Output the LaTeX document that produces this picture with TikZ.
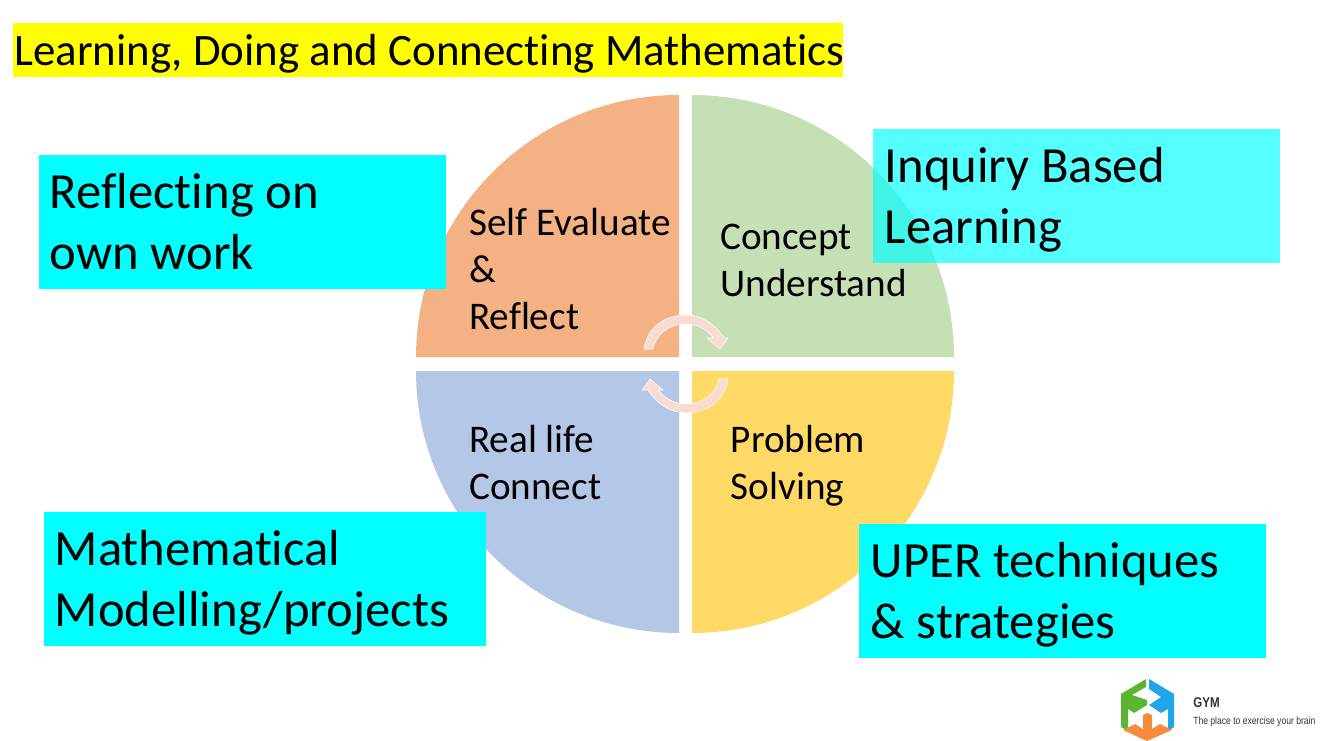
\documentclass[tikz,border=0pt]{standalone}
\usepackage{fontspec}
\setmainfont[Ligatures=CommonOff]{Carlito}
\newfontfamily\logofont[FakeStretch=0.82]{Liberation Sans}
\definecolor{cyanbox}{HTML}{00FFFF}
\definecolor{titley}{HTML}{FFFF00}
\definecolor{qorange}{HTML}{F4B183}
\definecolor{qgreen}{HTML}{C5E0B4}
\definecolor{qblue}{HTML}{B4C7E7}
\definecolor{qyellow}{HTML}{FFD966}
\definecolor{arrowfill}{HTML}{F8DCD2}
\definecolor{lgreen}{HTML}{5CB531}
\definecolor{lblue}{HTML}{1FA5EA}
\definecolor{lorange}{HTML}{F58B3C}
\definecolor{logotext}{HTML}{333333}
\tikzset{
  box/.style={fill=cyanbox,inner sep=0pt,outer sep=0pt},
  boxtext/.style={anchor=north west,align=left,inner sep=0pt,font=\fontsize{38}{45.75}\selectfont},
  pietext/.style={anchor=north west,align=left,inner sep=0pt,font=\fontsize{29.4}{35.25}\selectfont},
  cyclearrow/.style={fill=arrowfill,draw=white,line width=0.4pt}
}
\begin{document}
\begin{tikzpicture}[x=0.75pt,y=-0.75pt]
\useasboundingbox (0,0) rectangle (1326,741);
\fill[white] (0,0) rectangle (1326,741);
\fill[titley] (13,23) rectangle (843,77);
\node[anchor=base west,inner sep=0pt,font=\fontsize{33.7}{35}\selectfont] (title) at (14,65.5) {Learning, Doing and Connecting Mathematics};
% quadrants
\fill[qorange] (679,357) -- (416,357) arc[start angle=180,end angle=90,x radius=263,y radius=-262] -- cycle;
\fill[qgreen] (692,357) -- (692,95) arc[start angle=90,end angle=0,x radius=262,y radius=-262] -- cycle;
\fill[qblue] (679,371) -- (679,633) arc[start angle=270,end angle=180,x radius=263,y radius=-262] -- cycle;
\fill[qyellow] (692,371) -- (954,371) arc[start angle=0,end angle=-90,x radius=262,y radius=-262] -- cycle;
% pie labels
\node[pietext] (a) at (469,208) {Self Evaluate\\\&\\Reflect};
\node[pietext] (b) at (720,224) {Concept\\Understand};
\node[pietext] (c) at (469,425.5) {Real life\\Connect};
\node[pietext] (d) at (730.5,425.5) {Problem\\Solving};
% cycle arrows
\path[cyclearrow] (644,349) .. controls (647,327) and (665,315) .. (686,315) .. controls (702,315) and (716,325) .. (724,338) -- (728,338) -- (720,349) -- (707,338) -- (713.5,338) .. controls (707,329) and (697,324) .. (686,324) .. controls (669,324) and (656,334) .. (653,349) -- cycle;
\path[cyclearrow] (728,379) .. controls (725,401) and (707,413) .. (686,413) .. controls (670,413) and (656,403) .. (648,390) -- (642,390) -- (650,379) -- (663,390) -- (658.5,390) .. controls (665,399) and (675,404) .. (686,404) .. controls (703,404) and (716,394) .. (719,379) -- cycle;
% boxes
\fill[box] (39,155) rectangle (446,289);
\node[boxtext] (r) at (49.5,173.5) {Reflecting on\\own work};
\fill[box,fill opacity=0.67] (873,129) rectangle (1280,263);
\node[boxtext] (i) at (884.5,147.5) {Inquiry Based\\Learning};
\fill[box] (44,512) rectangle (486,646);
\node[boxtext] (m) at (54.5,530.5) {Mathematical\\Modelling/projects};
\fill[box] (859,524) rectangle (1266,658);
\node[boxtext] (u) at (870.5,542.5) {UPER techniques\\\& strategies};
% logo
\fill[lgreen] (1146,679) -- (1121,694) -- (1121,727) -- (1128,731) -- (1128,709) -- (1134,713) -- (1147,705) -- (1147,700) -- (1132,695) -- (1146,687) -- cycle;
\fill[lblue] (1149,679) -- (1174,694) -- (1174,727) -- (1168,731) -- (1168,709) -- (1161,713) -- (1149,705) -- (1161,697) -- (1149,689) -- cycle;
\fill[lorange] (1147,713) -- (1152,715) -- (1152,729) -- (1160,724) -- (1172,730) -- (1147,741) -- (1123,730) -- (1135,724) -- (1143,729) -- (1143,715) -- cycle;
\node[anchor=base west,inner sep=0pt,text=logotext,font=\logofont\bfseries\fontsize{10.6}{12}\selectfont] (g) at (1193,707) {GYM};
\node[anchor=base west,inner sep=0pt,text=logotext,font=\logofont\fontsize{7.85}{9}\selectfont] (p) at (1193,724) {The place to exercise your brain};
\end{tikzpicture}
\end{document}
